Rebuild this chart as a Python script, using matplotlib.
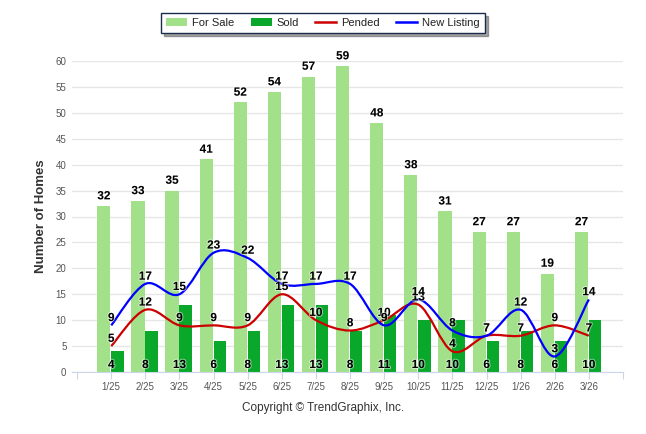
import matplotlib
matplotlib.use("Agg")
import matplotlib.pyplot as plt
from matplotlib.path import Path
from matplotlib.patches import PathPatch, Patch
from matplotlib.lines import Line2D
import matplotlib.patheffects as pe

months = ["1/25", "2/25", "3/25", "4/25", "5/25", "6/25", "7/25", "8/25",
          "9/25", "10/25", "11/25", "12/25", "1/26", "2/26", "3/26"]
for_sale = [32, 33, 35, 41, 52, 54, 57, 59, 48, 38, 31, 27, 27, 19, 27]
sold = [4, 8, 13, 6, 8, 13, 13, 8, 11, 10, 10, 6, 8, 6, 10]
pended = [5, 12, 9, 9, 9, 15, 10, 8, 10, 13, 4, 7, 7, 9, 7]
new_listing = [9, 17, 15, 23, 22, 17, 17, 17, 9, 14, 8, 7, 12, 3, 14]
yticks = list(range(0, 61, 5))

plt.rcParams['font.family'] = ['Liberation Sans', 'DejaVu Sans']

C_FORSALE = "#a3e08a"
C_SOLD = "#0aa82a"
C_PENDED = "#cc0000"
C_NEW = "#0000ff"


def spline_path(xs, ys):
    """Catmull-Rom spline through the points, as cubic Bezier segments."""
    n = len(xs)
    verts = [(xs[0], ys[0])]
    codes = [Path.MOVETO]
    for i in range(n - 1):
        p0 = (xs[i - 1], ys[i - 1]) if i > 0 else (xs[i], ys[i])
        p1 = (xs[i], ys[i])
        p2 = (xs[i + 1], ys[i + 1])
        p3 = (xs[i + 2], ys[i + 2]) if i + 2 < n else p2
        c1 = (p1[0] + (p2[0] - p0[0]) / 6, p1[1] + (p2[1] - p0[1]) / 6)
        c2 = (p2[0] - (p3[0] - p1[0]) / 6, p2[1] - (p3[1] - p1[1]) / 6)
        verts += [c1, c2, p2]
        codes += [Path.CURVE4] * 3
    return Path(verts, codes)


fig = plt.figure(figsize=(6.46, 4.34), dpi=100)
ax = fig.add_axes([72 / 646, 62 / 434, (623 - 72) / 646, (372 - 61) / 434])

x = list(range(len(months)))
ax.bar([i - 0.41 for i in x], for_sale, width=0.385, align='edge',
       color=C_FORSALE, zorder=2)
ax.bar([i + 0.0 for i in x], sold, width=0.36, align='edge',
       color=C_SOLD, zorder=2)

ax.add_patch(PathPatch(spline_path(x, pended), facecolor='none',
                       edgecolor=C_PENDED, lw=1.6, zorder=3))
ax.add_patch(PathPatch(spline_path(x, new_listing), facecolor='none',
                       edgecolor=C_NEW, lw=1.6, zorder=4))

lab_kw = dict(ha='center', va='center', fontsize=8.5, fontweight='bold',
              color='black', zorder=6,
              path_effects=[pe.withStroke(linewidth=1.5, foreground='white', alpha=0.5)])
for i in x:
    ax.text(i - 0.41 + 0.1925, for_sale[i] + 1.9, str(for_sale[i]), **lab_kw)
    ax.text(i, 1.35, str(sold[i]), **lab_kw)
    ax.text(i, pended[i] + 1.4, str(pended[i]), **lab_kw)
    ax.text(i, new_listing[i] + 1.4, str(new_listing[i]), **lab_kw)

ax.set_xlim(-1.15, 15.0)
ax.set_ylim(0, 60)
ax.set_yticks(yticks)
ax.set_yticklabels([str(v) for v in yticks], fontsize=7, color='#555555')
ax.set_xticks(list(range(-1, 16)))
ax.set_xticklabels([""] + months + [""], fontsize=7, color='#555555')
ax.tick_params(axis='y', length=0, pad=4)
ax.tick_params(axis='x', length=5, color='#ccd6eb', pad=2)
ax.grid(axis='y', color='#e6e6e6', lw=1, zorder=0)
ax.set_axisbelow(True)
for s in ['top', 'right', 'left']:
    ax.spines[s].set_visible(False)
ax.spines['bottom'].set_color('#ccd6eb')

ax.set_ylabel("Number of Homes", fontsize=9.5, fontweight='bold',
              color='#333333', labelpad=6)

handles = [Patch(facecolor=C_FORSALE, edgecolor='none'),
           Patch(facecolor=C_SOLD, edgecolor='none'),
           Line2D([], [], color=C_PENDED, lw=1.8),
           Line2D([], [], color=C_NEW, lw=1.8)]
leg = fig.legend(handles, ["For Sale", "Sold", "Pended", "New Listing"],
                 loc='upper center', bbox_to_anchor=(323 / 646, 1 - 13 / 434),
                 ncol=4, fontsize=8, frameon=True, fancybox=False, shadow=True,
                 handlelength=1.9, handleheight=0.7, columnspacing=1.45,
                 handletextpad=0.45, borderpad=0.45, borderaxespad=0)
leg.get_frame().set_edgecolor('#1a2a4a')
leg.get_frame().set_linewidth(1.0)
for t in leg.get_texts():
    t.set_color('#222222')

fig.text(323 / 646, 1 - 408 / 434, "Copyright © TrendGraphix, Inc.",
         ha='center', va='center', fontsize=8.5, color='#333333')

fig.savefig("out.png", dpi=100)
